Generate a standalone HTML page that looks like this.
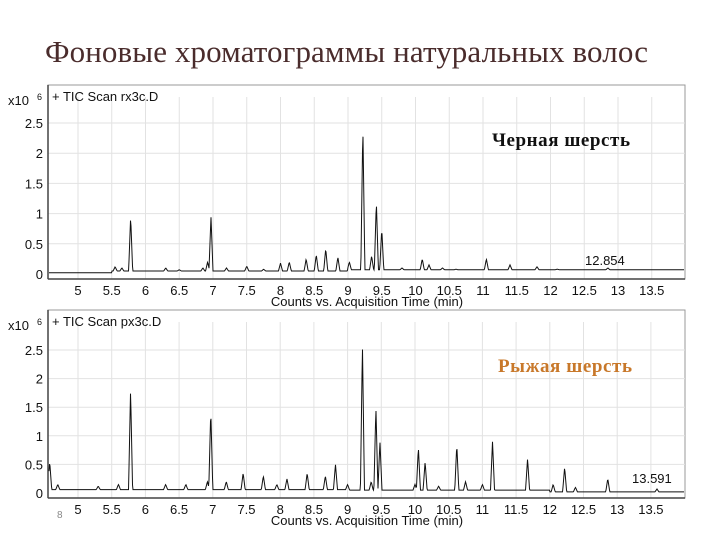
<!DOCTYPE html>
<html><head><meta charset="utf-8"><style>
body{margin:0;background:#fff;width:720px;height:540px;overflow:hidden;font-family:"Liberation Sans",sans-serif}
svg{position:absolute;left:0;top:0}
</style></head><body>
<svg id="s" width="720" height="540">
<text x="45" y="62" font-family="'Liberation Serif','DejaVu Serif',serif" font-size="31" fill="#4a2c2c" textLength="603">Фоновые хроматограммы натуральных волос</text>
<text x="57" y="518" font-size="10" fill="#888">8</text>
</svg>
<script>
const xTicks=[5,5.5,6,6.5,7,7.5,8,8.5,9,9.5,10,10.5,11,11.5,12,12.5,13,13.5];
const yTicks=[0,0.5,1,1.5,2,2.5];
const blackTimes=[5.55,5.65,5.78,6.3,6.5,6.85,6.92,6.97,7.2,7.5,7.75,8.0,8.13,8.38,8.53,8.67,8.85,9.02,9.22,9.35,9.42,9.5,9.8,10.1,10.2,10.4,10.6,11.05,11.4,11.8,12.1,12.4,12.85,13.2];
const blackHeights=[0.12,0.1,0.95,0.1,0.07,0.1,0.2,0.95,0.1,0.13,0.08,0.18,0.2,0.25,0.32,0.42,0.28,0.2,2.45,0.3,1.2,0.75,0.1,0.25,0.15,0.1,0.08,0.25,0.15,0.12,0.08,0.07,0.1,0.05];
const redTimes=[4.58,4.7,5.3,5.6,5.78,6.3,6.6,6.92,6.97,7.2,7.45,7.75,7.95,8.1,8.4,8.67,8.82,9.0,9.22,9.35,9.42,9.48,10.0,10.05,10.15,10.35,10.62,10.75,11.0,11.15,11.67,12.05,12.22,12.38,12.86,13.59];
const redHeights=[0.55,0.15,0.12,0.15,1.8,0.15,0.15,0.2,1.45,0.2,0.35,0.3,0.15,0.25,0.35,0.3,0.5,0.15,2.6,0.2,1.5,0.9,0.15,0.8,0.55,0.12,0.85,0.2,0.15,0.9,0.6,0.15,0.45,0.1,0.25,0.07];
const NS="http://www.w3.org/2000/svg";
const svg=document.getElementById('s');
function mk(t,a,p){const e=document.createElementNS(NS,t);for(const k in a)e.setAttribute(k,a[k]);(p||svg).appendChild(e);return e;}
function chart(cfg){
  const g=mk('g',{});
  
  
  const X=t=>78+(t-5)*cfg.pxMin, Y=v=>cfg.y0-v*cfg.pxUnit;
  mk('rect',{x:cfg.L,y:cfg.T,width:cfg.R-cfg.L,height:cfg.B-cfg.T,fill:'#fff',stroke:'#999','stroke-width':1},g);
  xTicks.forEach(t=>{const l=mk('line',{x1:X(t),x2:X(t),y1:cfg.T+12,y2:cfg.B,stroke:'#e2e2e2'},g);
    
    const tx=mk('text',{x:X(t),y:cfg.B+16,'text-anchor':'middle','font-size':13,fill:'#111'},g);tx.textContent=t;
    });
  yTicks.forEach(v=>{if(v>0){const l=mk('line',{x1:cfg.L,x2:cfg.R,y1:Y(v),y2:Y(v),stroke:'#e2e2e2'},g);
    }
    const tx=mk('text',{x:cfg.L-5,y:Y(v)+5,'text-anchor':'end','font-size':13,fill:'#111'},g);tx.textContent=v;
    });
  mk('line',{x1:cfg.L,x2:cfg.L,y1:cfg.T,y2:cfg.B,stroke:'#444','stroke-width':1.5},g);
  mk('line',{x1:cfg.L,x2:cfg.R,y1:cfg.B,y2:cfg.B,stroke:'#444','stroke-width':1.5},g);
  let d='';
  for(let px=cfg.L+1;px<=cfg.R-1;px+=0.5){
    const t=(px-78)/cfg.pxMin+5;
    let v=cfg.base(t);
    cfg.times.forEach((pt,i)=>{const w=Math.abs(t-pt);const hw=0.03;if(w<hw)v=Math.max(v,cfg.heights[i]*(1-w/hw)+cfg.base(t)*(w/hw));});
    d+=(d?'L':'M')+px.toFixed(1)+','+Y(v).toFixed(1);
  }
  const p=mk('path',{d:d,fill:'none',stroke:'#111','stroke-width':1},g);
  
  const a=mk('text',{x:8,y:cfg.T+20,'font-size':13,fill:'#111'},g);a.textContent='x10';
  
  const a2=mk('text',{x:37,y:cfg.T+15,'font-size':9,fill:'#111'},g);a2.textContent='6';
  const h=mk('text',{x:52,y:cfg.T+16,'font-size':13,fill:'#111'},g);h.textContent=cfg.header;
  
  const xt=mk('text',{x:367,y:cfg.B+27,'text-anchor':'middle','font-size':13,fill:'#111'},g);xt.textContent='Counts vs. Acquisition Time (min)';
  
  const rt=mk('text',{x:cfg.rtX,y:cfg.rtY,'font-size':13,fill:'#111'},g);rt.textContent=cfg.rt;
  
  const lb=mk('text',{x:cfg.lbX,y:cfg.lbY,'font-size':19,'font-weight':'bold','font-family':"'Liberation Serif',serif",fill:cfg.lbC,textLength:cfg.lbW},g);lb.textContent=cfg.lb;
  
}
chart({name:'black-wool-chromatogram',L:48,T:85,R:685,B:279,y0:274,pxMin:67.5,pxUnit:60.4,times:blackTimes,heights:blackHeights,
  base:t=>t<5.5?0.02:(t<9?0.05:0.07),header:'+ TIC Scan rx3c.D',rt:'12.854',rtX:585,rtY:265,lb:'Черная шерсть',lbX:492,lbY:146,lbC:'#111',lbW:138});
chart({name:'red-wool-chromatogram',L:48,T:310,R:685,B:498,y0:493,pxMin:67.4,pxUnit:57.2,times:redTimes,heights:redHeights,
  base:t=>t<9?0.06:(t<12?0.05:0.02),header:'+ TIC Scan px3c.D',rt:'13.591',rtX:632,rtY:483,lb:'Рыжая шерсть',lbX:498,lbY:372,lbC:'#c8782a',lbW:134});
</script>
</body></html>
